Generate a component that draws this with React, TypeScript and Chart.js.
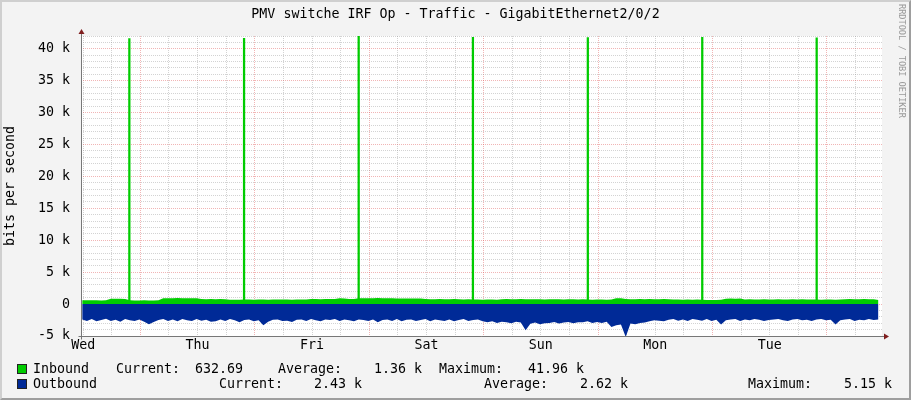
import React, { useEffect, useRef } from 'react';
import { Chart, registerables } from 'chart.js';

Chart.register(...registerables);

// ---------- data ----------
const TITLE = 'PMV switche IRF Op - Traffic - GigabitEthernet2/0/2';
const Y_TITLE = 'bits per second';
const WATERMARK = 'RRDTOOL / TOBI OETIKER';
const DAY_LABELS = ['Wed', 'Thu', 'Fri', 'Sat', 'Sun', 'Mon', 'Tue'];
const FIRST_NOON_HOUR = 0.45; // hours after graph start
const SPAN_HOURS = 168;
const SAMPLE_START = 0.25; // hour of first sample
const SAMPLE_STEP = 1; // hours between samples
const Y_MIN = -5000;
const Y_MAX = 42000;
const Y_MINOR_STEP = 1000;
const Y_MAJOR_STEP = 5000;

// Inbound bits per second, hourly samples
const INBOUND = [
  610, 590, 620, 600, 580, 610,
  820, 840, 830, 810,
  590, 570, 580, 600, 570, 580, 590,
  900, 930, 920, 940, 910, 920, 930, 900,
  790, 770, 780, 760, 790, 770,
  680, 690, 670,
  700, 710, 690, 720, 700, 690, 710, 700, 720, 700, 690, 710, 700, 720,
  780, 790, 770, 800, 780, 790,
  920, 880, 800, 780,
  900, 920, 930, 910, 940, 920, 910, 930,
  880, 860, 870, 890, 860, 870,
  780, 760, 770, 790, 770, 760, 780,
  740, 730, 750,
  710, 700, 690, 700, 710, 690,
  760, 780, 770, 760, 790, 770, 760,
  740, 750, 730, 740, 760, 740, 730, 750, 740, 730, 750,
  700, 690, 710, 700, 690, 700,
  910, 930,
  780, 770, 760, 780, 770, 790, 770, 760, 780, 770,
  700, 710, 690, 700, 690, 710,
  660, 650, 640, 650, 660,
  850, 870, 840, 860,
  730, 740, 720, 730, 750, 730, 720, 740, 730, 720, 740, 730, 750, 730,
  700, 710, 690, 700, 710, 690, 700,
  770, 780, 760, 770, 790, 770, 760, 640,
];

// Outbound bits per second (drawn below zero), hourly samples
const OUTBOUND = [
  -2400, -2650, -2350, -2700, -2500, -2300, -2650, -2450, -2750, -2350, -2550, -2650, -2400, -2750,
  -3150,
  -2800, -2500, -2350, -2650, -2400, -2700, -2350, -2550, -2650, -2350, -2600, -2450,
  -2750, -2700,
  -2400, -2650, -2350, -2550,
  -2850,
  -2500, -2400, -2700, -2550,
  -3300,
  -2750, -2450, -2400, -2650, -2600,
  -2800,
  -2450, -2400, -2650, -2350, -2550, -2700, -2400, -2500, -2350, -2650, -2400, -2550, -2700, -2400, -2500, -2650, -2400,
  -2850,
  -2500, -2400, -2650, -2350, -2700, -2450, -2400, -2650, -2500, -2350, -2700, -2400, -2550, -2650, -2400, -2700, -2500, -2350, -2650, -2500, -2400, -2700,
  -2850, -2700, -2950, -2750, -2850, -3000, -2750, -2900,
  -4100,
  -3100, -2900, -3150, -3000,
  -2950, -2800, -3050, -2900, -2800, -3000, -2850,
  -2850, -2700, -2950, -2800, -2950, -2750,
  -3600,
  -3300, -3200,
  -5150,
  -3050, -3150, -2950, -2900,
  -2700, -2550, -2600, -2700,
  -2450, -2350, -2600, -2400, -2650, -2350, -2450, -2600, -2350, -2650, -2450,
  -3200,
  -2550, -2400, -2350, -2650, -2400, -2550, -2350, -2450, -2650, -2500, -2400, -2350, -2550, -2650, -2400, -2350, -2550, -2450, -2650, -2400, -2350, -2550, -2450,
  -3200,
  -2550, -2400, -2350, -2650, -2450, -2550, -2350, -2500, -2430,
];

// Daily inbound spikes (hour after start, bits per second)
const SPIKE_HOURS = [10.14, 34.2, 58.24, 82.2, 106.3, 130.3, 154.3];
const SPIKE_VALUES = [41600, 41650, 41960, 41800, 41750, 41800, 41700];

const SERIES_NAMES = ['Inbound', 'Outbound'];
const STAT_NAMES = ['Current:', 'Average:', 'Maximum:'];
const INBOUND_STATS = ['632.69', '1.36 k', '41.96 k'];
const OUTBOUND_STATS = ['2.43 k', '2.62 k', '5.15 k'];

// ---------- styles ----------
const GREEN = '#00CC00';
const BLUE = '#002A97';
const BG = '#F3F3F3';
const MINOR_GRID = 'rgba(140,140,140,0.38)';
const MAJOR_GRID = 'rgba(222,79,79,0.42)';
const ARROW = '#801F1F';
const AXIS = '#777777';
const MONO = '"DejaVu Sans Mono", monospace';
const FONT_SIZE = 13.3;

const rrdFrame = {
  id: 'rrdFrame',
  beforeDraw(chart: any) {
    const { ctx, chartArea: a } = chart;
    ctx.save();
    ctx.fillStyle = '#FFFFFF';
    ctx.fillRect(a.left, a.top, a.right - a.left, a.bottom - a.top);
    ctx.restore();
  },
  afterDraw(chart: any) {
    const { ctx, chartArea: a } = chart;
    const L = Math.round(a.left) + 0.5;
    const B = Math.round(a.bottom) + 0.5;
    ctx.save();
    ctx.strokeStyle = AXIS;
    ctx.lineWidth = 1;
    ctx.beginPath();
    ctx.moveTo(L - 3, B);
    ctx.lineTo(a.right + 2, B);
    ctx.moveTo(L, a.top - 3);
    ctx.lineTo(L, B + 3);
    ctx.stroke();
    ctx.fillStyle = ARROW;
    ctx.beginPath();
    ctx.moveTo(L - 3, a.top - 2);
    ctx.lineTo(L + 3, a.top - 2);
    ctx.lineTo(L, a.top - 7);
    ctx.closePath();
    ctx.fill();
    ctx.beginPath();
    ctx.moveTo(a.right + 2, B - 3);
    ctx.lineTo(a.right + 2, B + 3);
    ctx.lineTo(a.right + 7, B);
    ctx.closePath();
    ctx.fill();
    ctx.restore();
  },
};

function hourIndex(v: number) {
  return Math.round((v - FIRST_NOON_HOUR) / 6);
}

export default function App() {
  const ref = useRef<HTMLCanvasElement>(null);

  useEffect(() => {
    const canvas = ref.current;
    if (!canvas) return;
    const inData = INBOUND.map((v, i) => ({ x: SAMPLE_START + i * SAMPLE_STEP, y: v }));
    const outData = OUTBOUND.map((v, i) => ({ x: SAMPLE_START + i * SAMPLE_STEP, y: v }));
    const spikes = SPIKE_HOURS.map((h, i) => ({ x: h, y: SPIKE_VALUES[i] }));
    const font = { family: MONO, size: FONT_SIZE };

    const chart = new Chart(canvas, {
      type: 'line',
      data: {
        datasets: [
          {
            type: 'bar',
            label: 'Inbound spikes',
            data: spikes,
            backgroundColor: GREEN,
            borderWidth: 0,
            barThickness: 1.6,
          } as any,
          {
            type: 'line',
            label: SERIES_NAMES[0],
            data: inData,
            backgroundColor: GREEN,
            borderColor: GREEN,
            borderWidth: 0,
            pointRadius: 0,
            fill: 'origin',
            tension: 0,
          },
          {
            type: 'line',
            label: SERIES_NAMES[1],
            data: outData,
            backgroundColor: BLUE,
            borderColor: BLUE,
            borderWidth: 0,
            pointRadius: 0,
            fill: 'origin',
            tension: 0,
          },
        ],
      },
      options: {
        animation: false,
        responsive: false,
        events: [],
        layout: { padding: { left: 3, top: 36, right: 29, bottom: 44 }, autoPadding: false } as any,
        plugins: {
          legend: { display: false },
          tooltip: { enabled: false },
          title: { display: false },
        },
        scales: {
          x: {
            type: 'linear',
            min: 0,
            max: SPAN_HOURS,
            offset: false,
            bounds: 'data',
            z: 1,
            afterBuildTicks: (s: any) => {
              const t: any[] = [];
              for (let k = 0; FIRST_NOON_HOUR + k * 6 < SPAN_HOURS; k++) t.push({ value: FIRST_NOON_HOUR + k * 6 });
              s.ticks = t;
            },
            afterFit: (s: any) => {
              s.height = 20;
            },
            grid: {
              offset: false,
              drawTicks: false,
              lineWidth: 1,
              color: (c: any) => (c.tick && hourIndex(c.tick.value) % 4 === 2 ? MAJOR_GRID : MINOR_GRID),
            },
            border: { display: false, dash: [1, 1] },
            ticks: {
              autoSkip: false,
              maxRotation: 0,
              minRotation: 0,
              padding: 2,
              color: '#000',
              font,
              callback: (v: any) => {
                const k = hourIndex(Number(v));
                return k % 4 === 0 ? DAY_LABELS[k / 4] ?? '' : '';
              },
            },
          } as any,
          y: {
            type: 'linear',
            min: Y_MIN,
            max: Y_MAX,
            bounds: 'data',
            z: 1,
            afterBuildTicks: (s: any) => {
              const t: any[] = [];
              for (let v = Y_MIN; v <= Y_MAX; v += Y_MINOR_STEP) t.push({ value: v });
              s.ticks = t;
            },
            afterFit: (s: any) => {
              s.width = 78;
            },
            grid: {
              drawTicks: false,
              lineWidth: 1,
              color: (c: any) => (c.tick && c.tick.value % Y_MAJOR_STEP === 0 ? MAJOR_GRID : MINOR_GRID),
            },
            border: { display: false, dash: [1, 1] },
            ticks: {
              autoSkip: false,
              padding: 11,
              color: '#000',
              font,
              callback: (v: any) => {
                const n = Number(v);
                if (n % Y_MAJOR_STEP !== 0) return '';
                return n === 0 ? '0' : `${n / 1000} k`;
              },
            },
            title: {
              display: true,
              text: Y_TITLE,
              color: '#000',
              font,
              padding: 0,
            },
          } as any,
        },
      },
      plugins: [rrdFrame],
    });
    return () => chart.destroy();
  }, []);

  const text: React.CSSProperties = {
    position: 'absolute',
    fontFamily: MONO,
    fontSize: FONT_SIZE,
    lineHeight: '16px',
    color: '#000',
    whiteSpace: 'pre',
  };
  const rows = [
    { name: SERIES_NAMES[0], color: GREEN, stats: INBOUND_STATS, top: 361, boxTop: 364, label: [116, 278, 439], val: [195, 374, 528] },
    { name: SERIES_NAMES[1], color: BLUE, stats: OUTBOUND_STATS, top: 376, boxTop: 378.5, label: [219, 484, 748], val: [314, 580, 844] },
  ];

  return (
    <div
      style={{
        position: 'absolute',
        left: 0,
        top: 0,
        width: 911,
        height: 400,
        background: BG,
        overflow: 'hidden',
      }}
    >
      <canvas ref={ref} width={911} height={400} style={{ position: 'absolute', left: 0, top: 0, width: 911, height: 400 }} />
      <div style={{ ...text, left: 0, top: 6, width: 911, textAlign: 'center' }}>{TITLE}</div>
      {rows.map((r) => (
        <React.Fragment key={r.name}>
          <div
            style={{
              position: 'absolute',
              left: 17,
              top: r.boxTop,
              width: 10,
              height: 10,
              boxSizing: 'border-box',
              background: r.color,
              border: '1px solid #222',
            }}
          />
          <div style={{ ...text, left: 33, top: r.top }}>{r.name}</div>
          {STAT_NAMES.map((s, i) => (
            <React.Fragment key={s}>
              <div style={{ ...text, left: r.label[i], top: r.top }}>{s}</div>
              <div style={{ ...text, left: r.val[i], top: r.top }}>{r.stats[i]}</div>
            </React.Fragment>
          ))}
        </React.Fragment>
      ))}
      <div
        style={{
          position: 'absolute',
          left: 897,
          top: 4,
          writingMode: 'vertical-rl',
          fontFamily: MONO,
          fontSize: 8.6,
          lineHeight: '10px',
          color: '#999999',
          whiteSpace: 'pre',
        }}
      >
        {WATERMARK}
      </div>
      <div
        style={{
          position: 'absolute',
          left: 0,
          top: 0,
          width: 911,
          height: 400,
          boxSizing: 'border-box',
          borderStyle: 'solid',
          borderWidth: 2,
          borderColor: '#CFCFCF #9E9E9E #9E9E9E #CFCFCF',
          pointerEvents: 'none',
        }}
      />
    </div>
  );
}
